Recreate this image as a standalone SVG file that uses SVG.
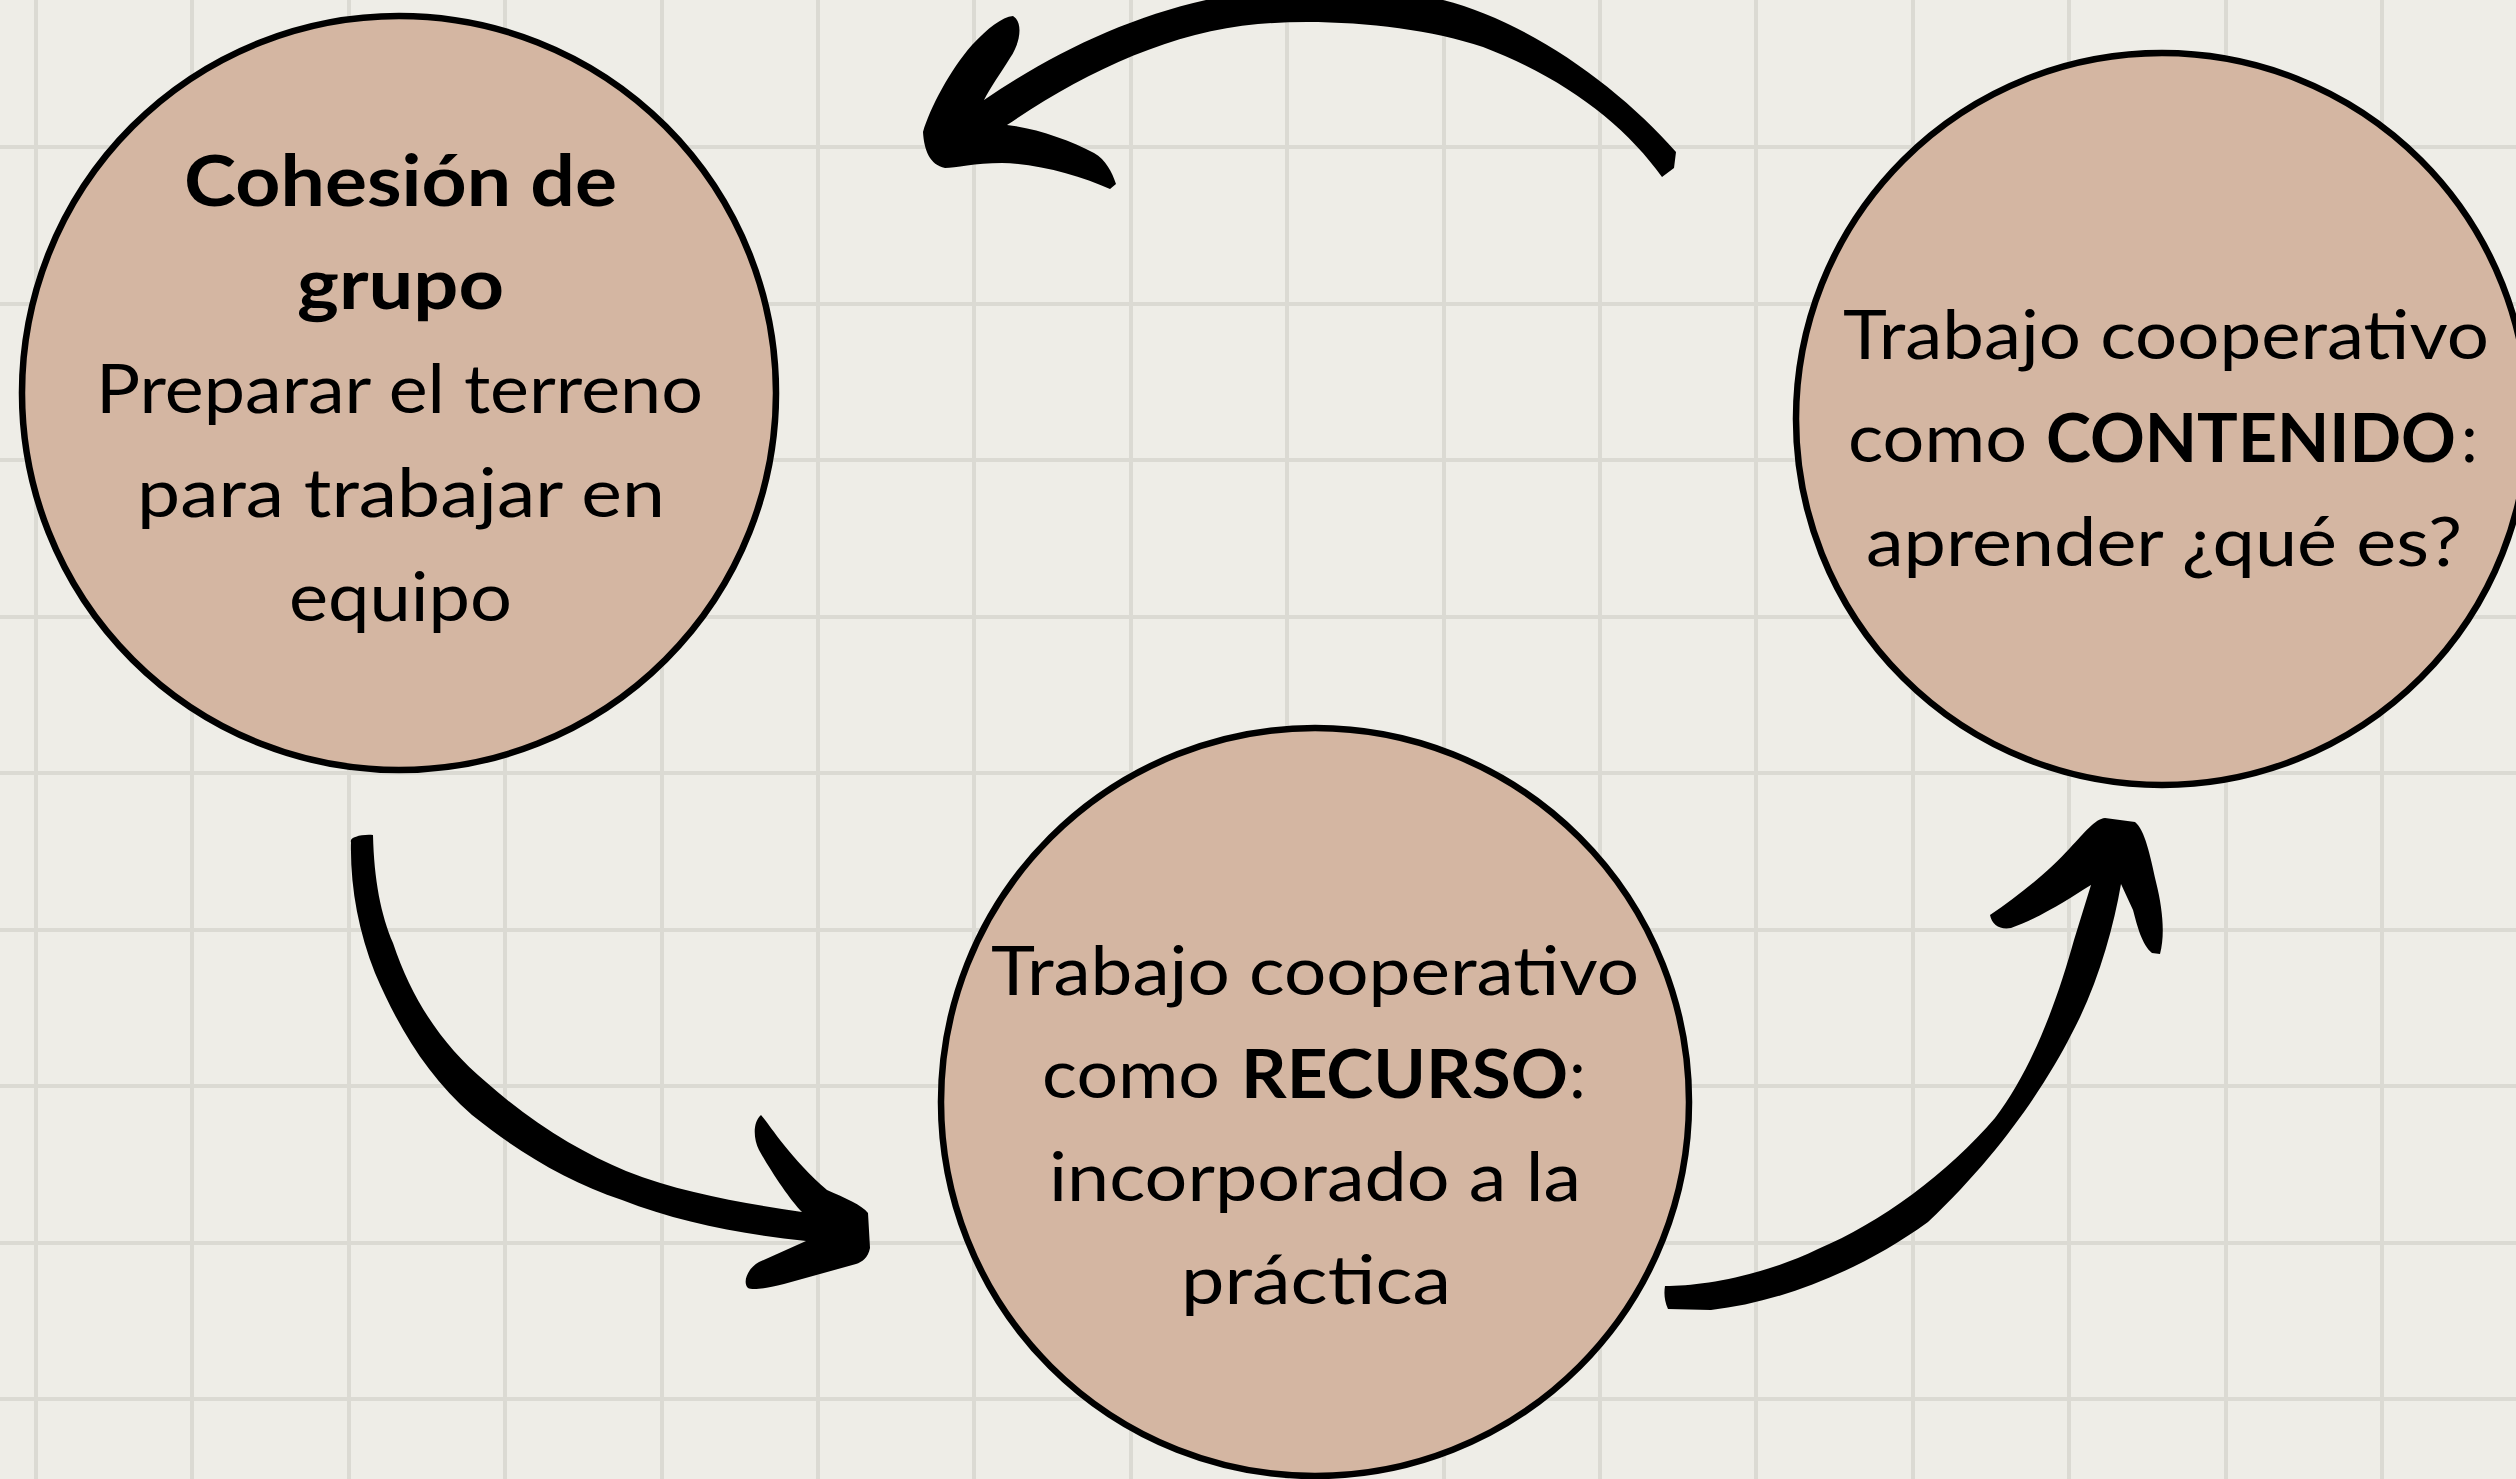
<svg xmlns="http://www.w3.org/2000/svg" width="2516" height="1479" viewBox="0 0 2516 1479">
<defs>
<style>
.bg{fill:#eeede7}
.grid line{stroke:#dbdad3;stroke-width:4}
.node circle{fill:#d4b6a2;stroke:#000;stroke-width:6.5}
.node text{font-family:"Lato","Liberation Sans",sans-serif;fill:#000}
.r{font-size:67px;font-weight:400}
.b{font-size:67px;font-weight:700}
.arrow{fill:#000}
</style>
</defs>
<rect class="bg" x="0" y="0" width="2516" height="1479"/>
<g class="grid">
<line x1="36" y1="0" x2="36" y2="1479"/>
<line x1="192" y1="0" x2="192" y2="1479"/>
<line x1="349" y1="0" x2="349" y2="1479"/>
<line x1="505" y1="0" x2="505" y2="1479"/>
<line x1="662" y1="0" x2="662" y2="1479"/>
<line x1="818" y1="0" x2="818" y2="1479"/>
<line x1="974" y1="0" x2="974" y2="1479"/>
<line x1="1131" y1="0" x2="1131" y2="1479"/>
<line x1="1287" y1="0" x2="1287" y2="1479"/>
<line x1="1444" y1="0" x2="1444" y2="1479"/>
<line x1="1600" y1="0" x2="1600" y2="1479"/>
<line x1="1756" y1="0" x2="1756" y2="1479"/>
<line x1="1913" y1="0" x2="1913" y2="1479"/>
<line x1="2069" y1="0" x2="2069" y2="1479"/>
<line x1="2226" y1="0" x2="2226" y2="1479"/>
<line x1="2382" y1="0" x2="2382" y2="1479"/>
<line x1="0" y1="147" x2="2516" y2="147"/>
<line x1="0" y1="304" x2="2516" y2="304"/>
<line x1="0" y1="460" x2="2516" y2="460"/>
<line x1="0" y1="617" x2="2516" y2="617"/>
<line x1="0" y1="773" x2="2516" y2="773"/>
<line x1="0" y1="930" x2="2516" y2="930"/>
<line x1="0" y1="1086" x2="2516" y2="1086"/>
<line x1="0" y1="1243" x2="2516" y2="1243"/>
<line x1="0" y1="1399" x2="2516" y2="1399"/>
</g>
<g id="connectors">
<path id="arrow-contenido-cohesion" class="arrow" d="M 984,100 C 1050,55 1125,18 1206,0 C 1290,-16 1380,-14 1443,0 C 1530,22 1620,88 1676,152 L 1674,168 L 1662,177 C 1625,125 1565,78 1483,47 C 1420,26 1330,18 1258,24 C 1170,32 1085,72 1007,125 C 1035,128 1070,140 1094,153 C 1106,160 1112,172 1116,184 L 1110,189 C 1080,176 1040,164 1002,163 C 975,163 955,168 945,168 C 930,165 924,150 923,132 C 930,108 950,70 972,45 C 988,28 1002,17 1013,16 C 1023,22 1021,42 1010,58 C 1000,74 990,88 984,100 Z"/>
<path id="arrow-cohesion-recurso" class="arrow" d="M 351,842 C 349,838 360,834 373,835 C 374,880 381,915 393,943 C 412,1000 442,1045 486,1082 C 532,1123 582,1153 626,1171 C 682,1193 742,1203 802,1212 C 790,1200 770,1170 759,1150 C 753,1138 753,1122 761,1115 C 770,1125 790,1158 827,1190 C 845,1198 862,1205 868,1213 L 870,1248 C 868,1258 862,1262 856,1264 L 784,1284 C 765,1289 752,1290 748,1288 C 742,1282 748,1268 759,1262 L 806,1241 C 740,1234 678,1222 622,1200 C 568,1182 518,1152 472,1115 C 428,1077 398,1027 375,973 C 358,930 350,885 351,842 Z"/>
<path id="arrow-recurso-contenido" class="arrow" d="M 1665,1286 C 1700,1286 1760,1277 1818,1249 C 1880,1223 1948,1173 1995,1118 C 2033,1068 2058,998 2074,940 L 2091,885 C 2070,898 2040,918 2011,928 C 2000,930 1992,925 1990,915 C 2020,895 2050,870 2070,848 C 2085,832 2095,819 2105,818 L 2135,822 C 2145,830 2150,855 2156,882 C 2163,910 2165,935 2160,954 L 2152,953 C 2142,945 2137,925 2133,910 L 2121,884 C 2113,930 2097,987 2071,1035 C 2047,1082 2002,1152 1928,1222 C 1862,1270 1782,1302 1711,1310 L 1668,1309 C 1664,1300 1664,1292 1665,1286 Z"/>
</g>
<g id="node-cohesion" class="node">
<circle cx="399" cy="393" r="377"/>
<text class="b" x="184" y="206" style="font-size:71px" textLength="433" lengthAdjust="spacingAndGlyphs">Cohesión de</text>
<text class="b" x="297" y="309" style="font-size:71px" textLength="207" lengthAdjust="spacingAndGlyphs">grupo</text>
<text class="r" x="96" y="413" textLength="607" lengthAdjust="spacingAndGlyphs">Preparar el terreno</text>
<text class="r" x="137" y="517" textLength="528" lengthAdjust="spacingAndGlyphs">para trabajar en</text>
<text class="r" x="289" y="621" textLength="223" lengthAdjust="spacingAndGlyphs">equipo</text>
</g>
<g id="node-recurso" class="node">
<circle cx="1315" cy="1102" r="374"/>
<text class="r" x="991" y="995" textLength="648" lengthAdjust="spacingAndGlyphs">Trabajo cooperativo</text>
<text class="r" x="1042" y="1098" textLength="178" lengthAdjust="spacingAndGlyphs">como</text>
<text class="b" x="1241" y="1098" textLength="327" lengthAdjust="spacingAndGlyphs">RECURSO</text>
<text class="r" x="1569" y="1098">:</text>
<text class="r" x="1049" y="1201" textLength="532" lengthAdjust="spacingAndGlyphs">incorporado a la</text>
<text class="r" x="1181" y="1304" textLength="270" lengthAdjust="spacingAndGlyphs">práctica</text>
</g>
<g id="node-contenido" class="node">
<circle cx="2162" cy="419" r="366"/>
<text class="r" x="1843" y="359" textLength="646" lengthAdjust="spacingAndGlyphs">Trabajo cooperativo</text>
<text class="r" x="1848" y="462" textLength="179" lengthAdjust="spacingAndGlyphs">como</text>
<text class="b" x="2046" y="462" textLength="410" lengthAdjust="spacingAndGlyphs">CONTENIDO</text>
<text class="r" x="2461" y="462">:</text>
<text class="r" x="1866" y="566" textLength="596" lengthAdjust="spacingAndGlyphs">aprender ¿qué es?</text>
</g>
</svg>
